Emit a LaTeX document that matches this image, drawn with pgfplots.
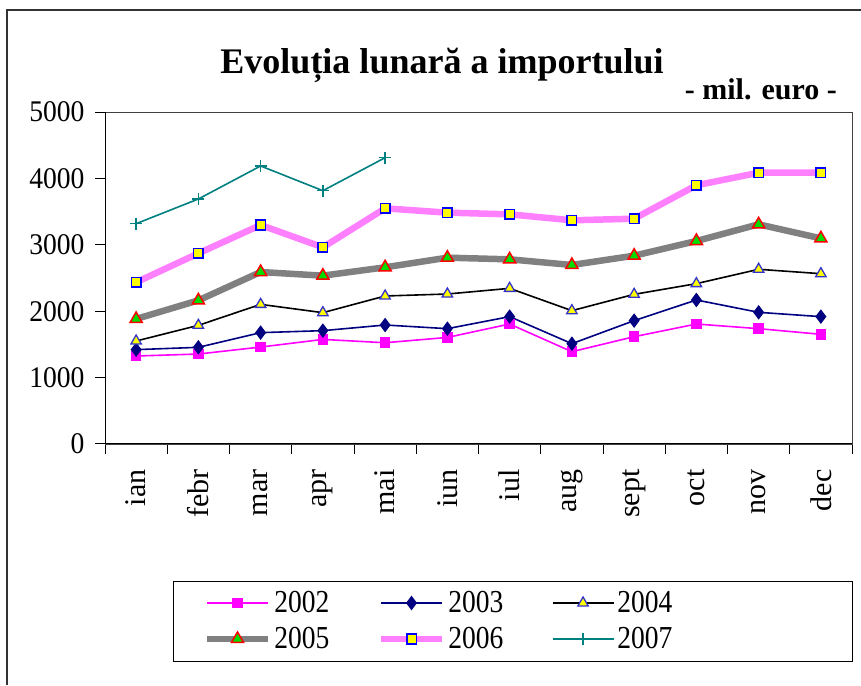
\documentclass[border=0pt]{standalone}
\usepackage{fontspec}
\setmainfont{Liberation Serif}
\newfontfamily\tickfont{Liberation Serif}[FakeStretch=0.92]
\newfontfamily\legfont{Liberation Serif}[FakeStretch=0.86]
\usepackage{pgfplots}
\pgfplotsset{compat=1.18}
\definecolor{cA}{HTML}{FF00FF}
\definecolor{cB}{HTML}{000080}
\definecolor{cTriB}{HTML}{3333CC}
\definecolor{cY}{HTML}{FFFF00}
\definecolor{cGray}{HTML}{808080}
\definecolor{cGreen}{HTML}{00DD00}
\definecolor{cRed}{HTML}{FF0000}
\definecolor{cPink}{HTML}{FF80FF}
\definecolor{cBlue}{HTML}{0000FF}
\definecolor{cTeal}{HTML}{008080}
\begin{document}
\begin{tikzpicture}[x=1pt,y=1pt]
\path[use as bounding box] (0,0) rectangle (861,685);
\draw[line width=1.5pt, black!80] (7,0) -- (7,675) -- (861,675);
\node[anchor=base, font=\bfseries\fontsize{36}{36}\selectfont, inner sep=0] at (442,611) {Evoluția lunară a importului};
\node[anchor=base east, font=\bfseries\fontsize{30}{30}\selectfont, inner sep=0] at (837,585) {- mil. euro -};
\draw[black, line width=1pt] (173,24) rectangle (852,104);
\begin{axis}[
  at={(105pt,241pt)}, anchor=south west,
  scale only axis, width=747pt, height=332pt,
  xmin=0.5, xmax=12.5, ymin=0, ymax=5000,
  xtick={0.5,1.5,...,12.5}, x tick label as interval,
  xticklabels={ian,febr,mar,apr,mai,iun,iul,aug,sept,oct,nov,dec},
  ytick={0,1000,...,5000},
  tick align=outside, major tick length=10pt, tick pos=left,
  tick style={black, line width=1pt},
  axis line style={black!75, line width=0.8pt},
  xticklabel shift=12pt, yticklabel shift=7pt,
  x tick label style={rotate=90, anchor=east, font=\fontsize{30}{30}\selectfont},
  y tick label style={font=\tickfont\fontsize{30}{30}\selectfont},
  /pgf/number format/assume math mode=true,
  /pgf/number format/1000 sep={},
  scaled y ticks=false,
  legend columns=3,
  legend cell align=left,
  legend style={draw=none, fill=none, inner sep=0pt, outer sep=0pt,
    at={(axis description cs:0.1322,-0.4307)}, anchor=north west,
    font=\legfont\fontsize{32}{32}\selectfont,
    nodes={inner sep=2pt, text height=24pt, text depth=4pt, text width=58pt, anchor=west},
    row sep=4pt,
    /tikz/every odd column/.append style={column sep=1pt},
    /tikz/every even column/.append style={column sep=43.5pt}},
  legend image code/.code={\draw[mark repeat=2, mark phase=2] plot coordinates {(0pt,0pt) (30.5pt,0pt) (61pt,0pt)};},
]
\draw[black, line width=1.6pt] (rel axis cs:0,1) -- (rel axis cs:0,0) -- (rel axis cs:1,0);
\addplot[cA, line width=1.6pt, mark=square*, mark size=4.5pt, mark options={fill=cA, draw=cA}] coordinates {
(1,1325) (2,1355) (3,1460) (4,1575) (5,1525) (6,1605) (7,1807) (8,1390) (9,1616) (10,1807) (11,1737) (12,1652)};
\addlegendentry{2002}
\addplot[cB, line width=1.6pt, mark=diamond*, mark size=6pt, mark options={fill=cB, draw=cB}] coordinates {
(1,1421) (2,1456) (3,1677) (4,1707) (5,1792) (6,1737) (7,1918) (8,1511) (9,1858) (10,2169) (11,1983) (12,1918)};
\addlegendentry{2003}
\addplot[black, line width=1.6pt, mark=triangle*, mark size=6pt, mark options={fill=cY, draw=cTriB, line width=1.3pt}] coordinates {
(1,1551) (2,1787) (3,2103) (4,1978) (5,2229) (6,2259) (7,2344) (8,2008) (9,2254) (10,2415) (11,2631) (12,2565)};
\addlegendentry{2004}
\addplot[cGray, line width=6.5pt, mark=triangle*, mark size=7pt, mark options={fill=cGreen, draw=cRed, line width=1.5pt}] coordinates {
(1,1883) (2,2163) (3,2590) (4,2535) (5,2661) (6,2806) (7,2781) (8,2696) (9,2836) (10,3057) (11,3308) (12,3097)};
\addlegendentry{2005}
\addplot[cPink, line width=6.5pt, mark=square*, mark size=4.8pt, mark options={fill=cY, draw=cBlue, line width=1.6pt}] coordinates {
(1,2435) (2,2871) (3,3298) (4,2962) (5,3549) (6,3484) (7,3459) (8,3369) (9,3393) (10,3896) (11,4086) (12,4086)};
\addlegendentry{2006}
\addplot[cTeal, line width=1.6pt, mark=+, mark size=6pt, mark options={draw=cTeal, line width=1.5pt}] coordinates {
(1,3318) (2,3690) (3,4187) (4,3815) (5,4312)};
\addlegendentry{2007}
\end{axis}
\end{tikzpicture}
\end{document}
